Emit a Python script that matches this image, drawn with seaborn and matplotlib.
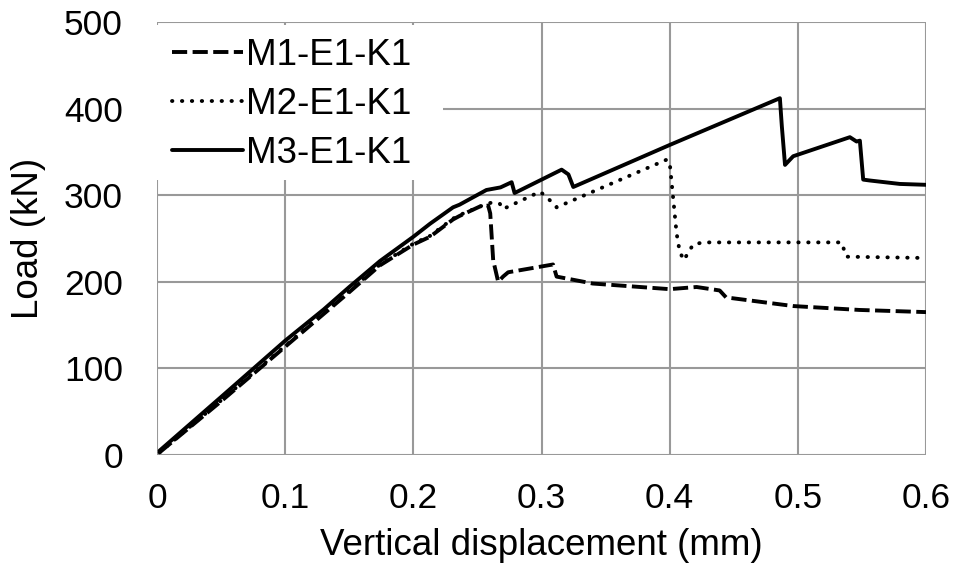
import matplotlib
matplotlib.use("Agg")
import matplotlib.pyplot as plt
from matplotlib.patches import Rectangle
import seaborn as sns
import pandas as pd

# Load-displacement curves
m1_x = [0.002, 0.05, 0.1, 0.15, 0.174, 0.2, 0.213, 0.231, 0.236, 0.252, 0.2584,
        0.26, 0.2623, 0.2662, 0.270, 0.274, 0.309, 0.3118, 0.340, 0.400, 0.421,
        0.439, 0.444, 0.4964, 0.548, 0.600]
m1_y = [3, 62, 125, 188, 219, 243, 252, 272, 276, 287, 288,
        279, 225, 200, 206, 211, 220, 206, 198, 191.5, 194,
        190, 182, 172, 167.5, 165]

m2_x = [0.002, 0.05, 0.1, 0.15, 0.174, 0.2, 0.213, 0.231, 0.236, 0.252, 0.261,
        0.2675, 0.270, 0.2988, 0.304, 0.3118, 0.3976, 0.400, 0.4054, 0.4078,
        0.411, 0.4183, 0.426, 0.534, 0.538, 0.600]
m2_y = [3, 63, 126, 189, 220, 244, 253, 273, 277, 287, 291.5,
        290, 284, 304, 298, 286, 341, 338, 256, 235,
        225, 243, 245.5, 245.5, 229, 227.5]

m3_x = [0.002, 0.05, 0.1, 0.13, 0.15, 0.174, 0.2, 0.213, 0.231, 0.236, 0.257,
        0.268, 0.2767, 0.279, 0.3157, 0.321, 0.3248, 0.400, 0.486, 0.4875,
        0.490, 0.4964, 0.5406, 0.5458, 0.5484, 0.551, 0.556, 0.5796, 0.600]
m3_y = [5, 67, 132, 168, 194, 224, 252, 267, 286, 289, 306,
        309, 315, 302.5, 329.5, 324, 309.5, 358, 412, 380,
        335, 345, 367, 362, 363, 318, 317, 313, 312]

series_names = ["M1-E1-K1", "M2-E1-K1", "M3-E1-K1"]

x_ticks = [0, 0.1, 0.2, 0.3, 0.4, 0.5, 0.6]
x_tick_labels = ["0", "0.1", "0.2", "0.3", "0.4", "0.5", "0.6"]
y_ticks = [0, 100, 200, 300, 400, 500]

frames = []
for name, xs, ys in zip(series_names, [m1_x, m2_x, m3_x], [m1_y, m2_y, m3_y]):
    frames.append(pd.DataFrame({"x": xs, "y": ys, "series": name}))
df = pd.concat(frames, ignore_index=True)

sns.set_theme(style="white")
plt.rcParams["font.family"] = ["Liberation Sans", "DejaVu Sans"]

FS = 25.5
LFS = 26.5
GRID = "#999999"

fig = plt.figure(figsize=(9.58, 5.72), dpi=100)
ax = fig.add_axes([157 / 958, (572 - 455) / 572, 769 / 958, 433 / 572])

styles = {
    "M1-E1-K1": dict(dashes=(3.9, 1.4), dash_capstyle="butt"),
    "M2-E1-K1": dict(dashes=(0.1, 2.45), dash_capstyle="round"),
    "M3-E1-K1": dict(solid_capstyle="round"),
}
for name in series_names:
    sub = df[df["series"] == name]
    sns.lineplot(data=sub, x="x", y="y", ax=ax, sort=False, color="black",
                 linewidth=2.8, label=name, zorder=3, **styles[name])

ax.set_xlim(0, 0.6)
ax.set_ylim(0, 500)
ax.set_xticks(x_ticks)
ax.set_xticklabels(x_tick_labels)
ax.set_yticks(y_ticks)
ax.grid(True, color=GRID, linewidth=1.5)
ax.set_axisbelow(True)
for s in ax.spines.values():
    s.set_visible(False)
ax.tick_params(axis="both", length=7.5, width=1.5, color=GRID,
               labelsize=FS, labelcolor="black", direction="out")
ax.tick_params(axis="x", pad=12)
ax.tick_params(axis="y", pad=17)
ax.set_xlabel("Vertical displacement (mm)", fontsize=LFS, color="black", labelpad=9)
ax.set_ylabel("Load (kN)", fontsize=LFS, color="black", labelpad=13)

# white box behind the legend hides the gridlines there
ax.add_patch(Rectangle((-0.012, 0.635), 0.384, 0.358, transform=ax.transAxes,
                       facecolor="white", edgecolor="none", zorder=1, clip_on=False))

leg = ax.legend(loc="upper left", bbox_to_anchor=(0.0195, 0.963), frameon=False,
                fontsize=LFS, handlelength=1.93, handletextpad=0.08,
                labelspacing=0.38, borderaxespad=0, borderpad=0)
for t in leg.get_texts():
    t.set_color("black")

fig.savefig("out.png", dpi=100)
